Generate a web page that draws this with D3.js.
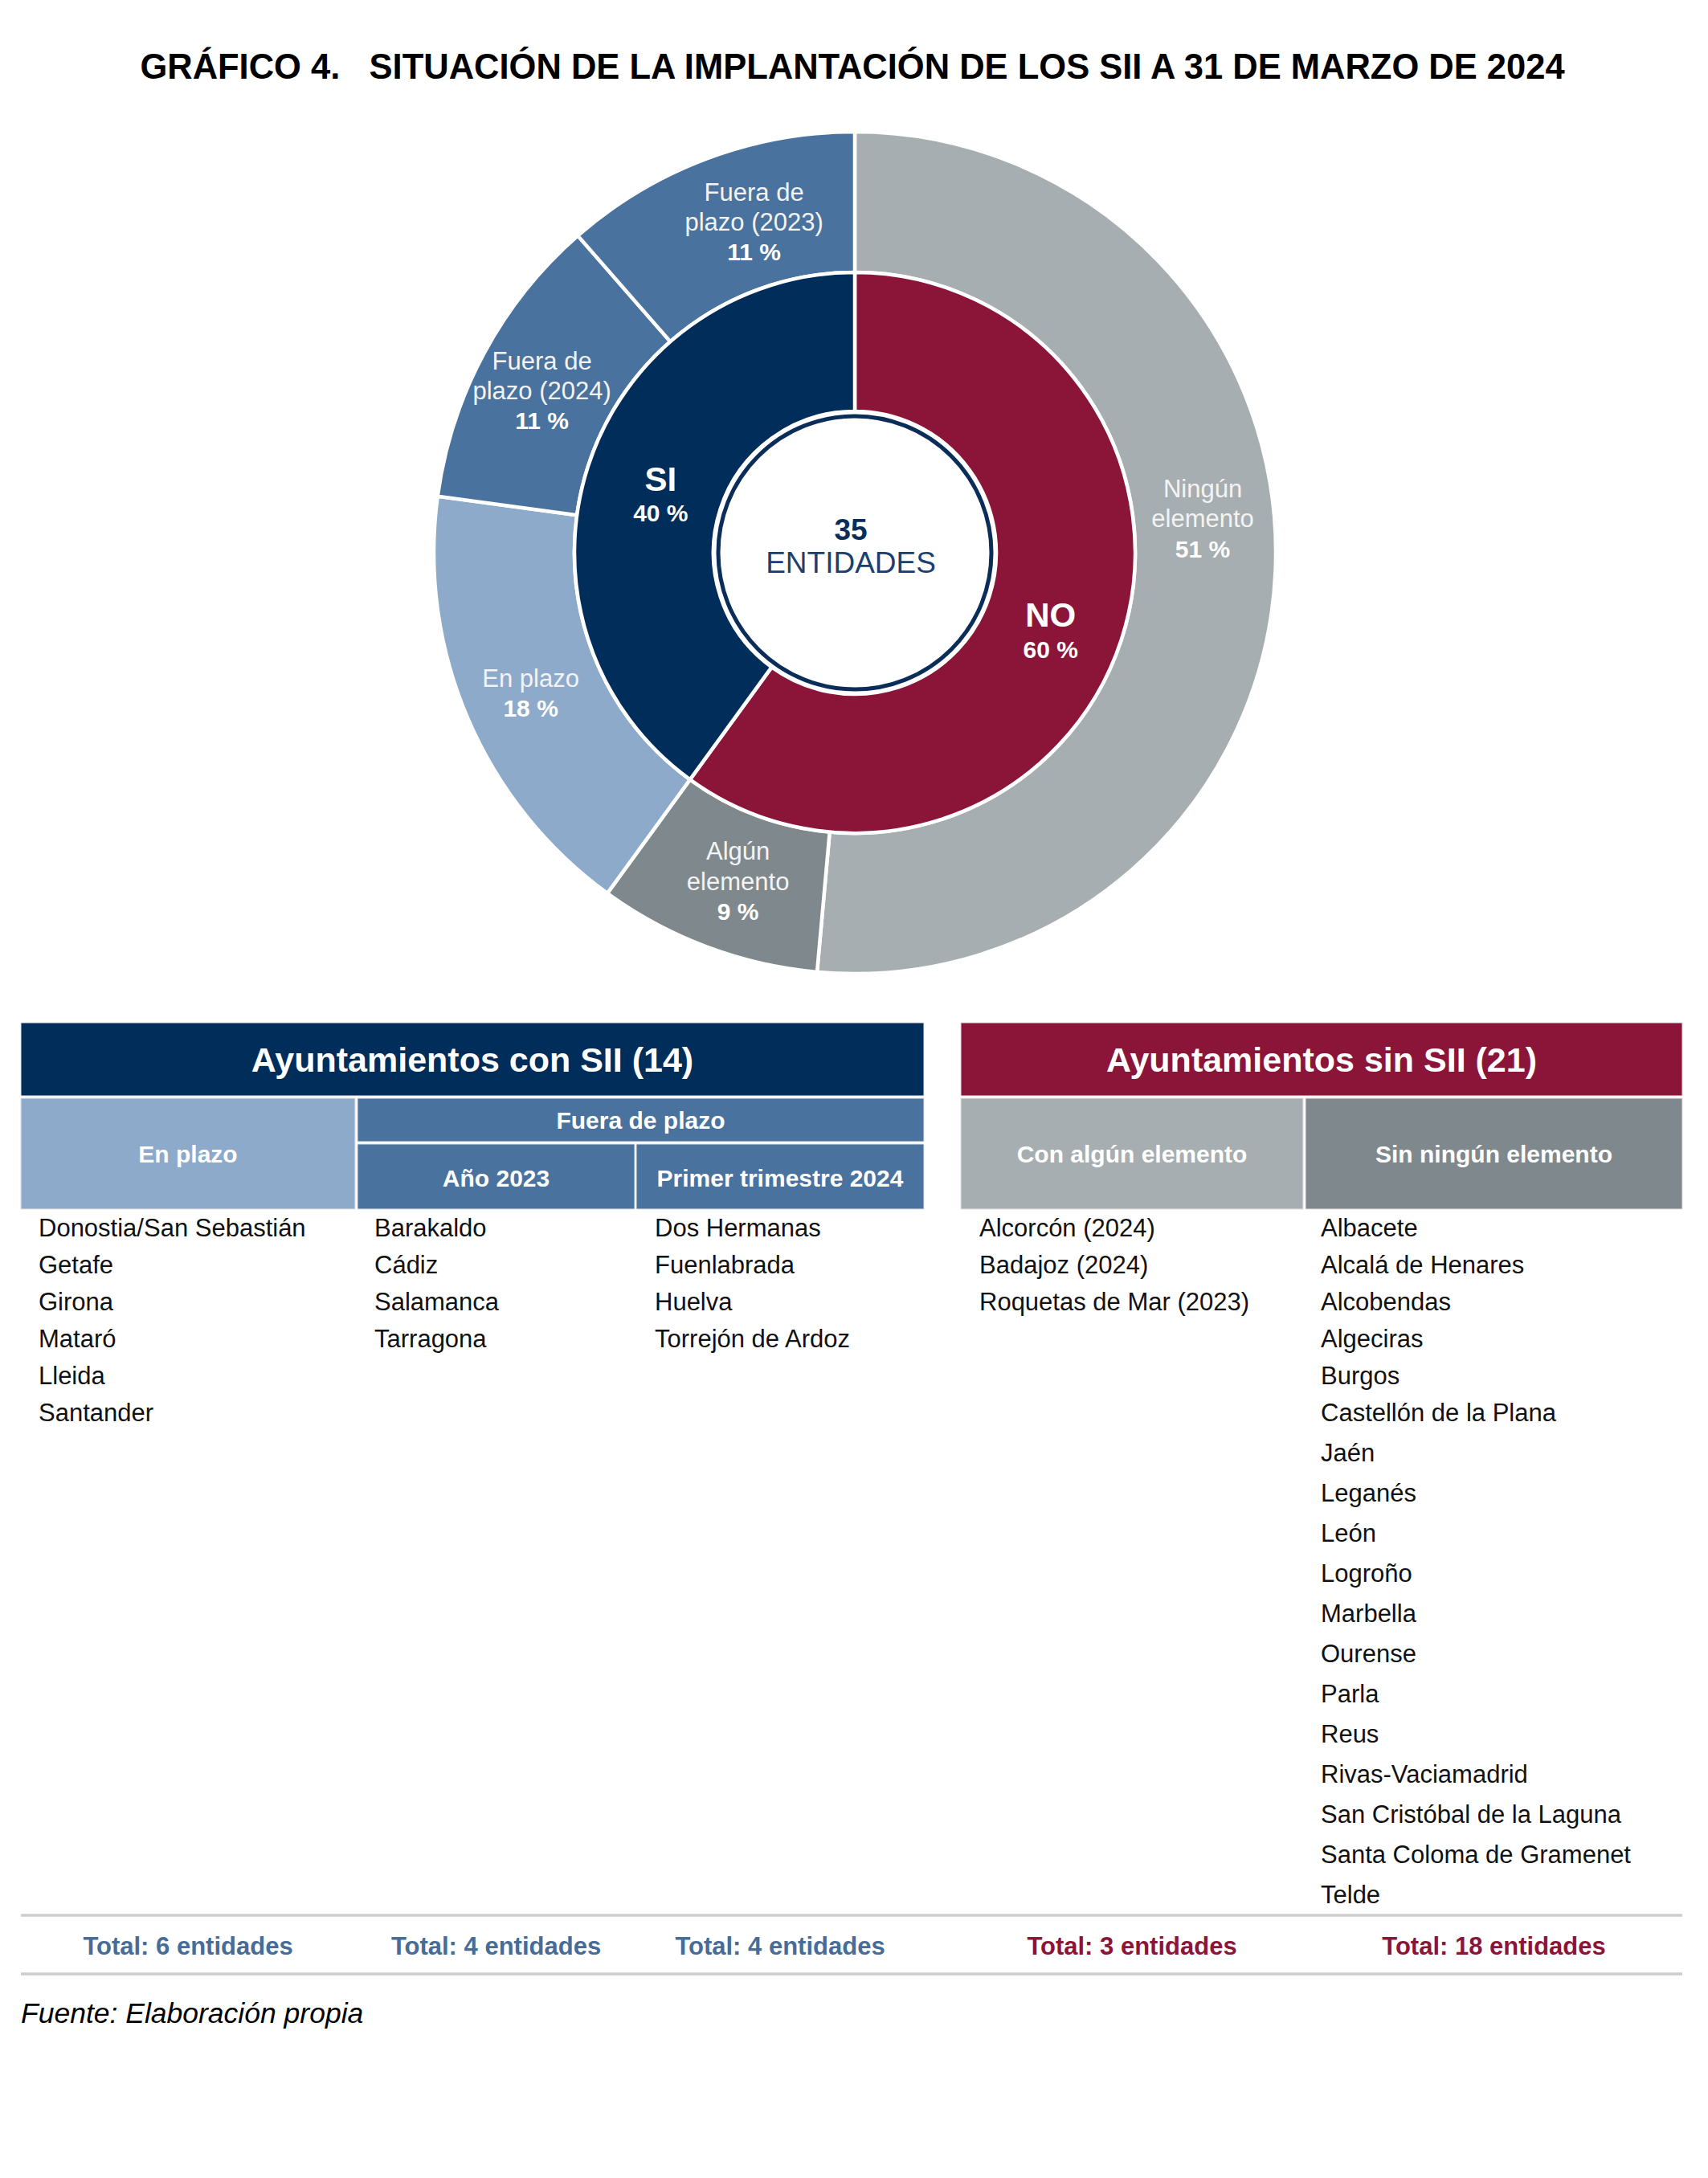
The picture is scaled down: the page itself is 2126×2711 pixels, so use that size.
<!DOCTYPE html>
<html>
<head>
<meta charset="utf-8">
<script src="https://cdn.jsdelivr.net/npm/d3@7"></script>
<style>
  html, body { margin: 0; padding: 0; background: #ffffff; }
  svg { display: block; }
  text { font-family: "Liberation Sans", Arial, Helvetica, sans-serif; }
</style>
</head>
<body>
<svg id="chart" width="2126" height="2711"></svg>
<script>
// ---------------- DATA ----------------
const titleText = "GRÁFICO 4.\u00A0\u00A0\u00A0SITUACIÓN DE LA IMPLANTACIÓN DE LOS SII A 31 DE MARZO DE 2024";
const totalEntities = 35;
const centerWord = "ENTIDADES";

const innerCategories = ["NO", "SI"];
const innerValues = [21, 14];
const innerPctLabels = ["60 %", "40 %"];

const outerCategories = ["Ningún elemento", "Algún elemento", "En plazo", "Fuera de plazo (2024)", "Fuera de plazo (2023)"];
const outerLabelLines = [["Ningún", "elemento"], ["Algún", "elemento"], ["En plazo"], ["Fuera de", "plazo (2024)"], ["Fuera de", "plazo (2023)"]];
const outerValues = [18, 3, 6, 4, 4];
const outerPctLabels = ["51 %", "9 %", "18 %", "11 %", "11 %"];

const tableConTitle = "Ayuntamientos con SII";
const tableSinTitle = "Ayuntamientos sin SII";
const colHeaders = ["En plazo", "Año 2023", "Primer trimestre 2024", "Con algún elemento", "Sin ningún elemento"];
const fueraHeader = "Fuera de plazo";

const enPlazoList = ["Donostia/San Sebastián", "Getafe", "Girona", "Mataró", "Lleida", "Santander"];
const fuera2023List = ["Barakaldo", "Cádiz", "Salamanca", "Tarragona"];
const fuera2024List = ["Dos Hermanas", "Fuenlabrada", "Huelva", "Torrejón de Ardoz"];
const conAlgunList = ["Alcorcón (2024)", "Badajoz (2024)", "Roquetas de Mar (2023)"];
const sinNingunList = ["Albacete", "Alcalá de Henares", "Alcobendas", "Algeciras", "Burgos", "Castellón de la Plana",
  "Jaén", "Leganés", "León", "Logroño", "Marbella", "Ourense", "Parla", "Reus", "Rivas-Vaciamadrid",
  "San Cristóbal de la Laguna", "Santa Coloma de Gramenet", "Telde"];

const sourceText = "Fuente: Elaboración propia";

// ---------------- STYLE ----------------
const C = {
  navy: "#002D5A",
  maroon: "#8B1538",
  fuera: "#4A729E",
  enplazo: "#8DAACA",
  ningun: "#A7AEB1",
  algun: "#7F898D",
  totalBlue: "#466C97",
  text: "#111111",
  rule: "#CDCDCD"
};
const innerColors = d3.scaleOrdinal().domain(innerCategories).range([C.maroon, C.navy]);
const outerColors = d3.scaleOrdinal().domain(outerCategories).range([C.ningun, C.algun, C.enplazo, C.fuera, C.fuera]);

const svg = d3.select("#chart");
svg.append("rect").attr("width", 2126).attr("height", 2711).attr("fill", "#fff");

// ---------------- TITLE ----------------
svg.append("text")
  .attr("x", 1061).attr("y", 98)
  .attr("text-anchor", "middle")
  .attr("font-size", 43.5).attr("font-weight", "bold").attr("fill", "#000")
  .text(titleText);

// ---------------- DONUT ----------------
const cx = 1064, cy = 688;
const g = svg.append("g").attr("transform", `translate(${cx},${cy})`);
const pie = d3.pie().sort(null).value(d => d.value).startAngle(0).endAngle(2 * Math.PI);

const outerData = pie(outerCategories.map((c, i) => ({ name: c, value: outerValues[i], lines: outerLabelLines[i], pct: outerPctLabels[i] })));
const innerData = pie(innerCategories.map((c, i) => ({ name: c, value: innerValues[i], pct: innerPctLabels[i] })));

const outerArc = d3.arc().innerRadius(349).outerRadius(524);
const innerArc = d3.arc().innerRadius(176).outerRadius(349);

g.selectAll("path.outer").data(outerData).join("path")
  .attr("class", "outer")
  .attr("d", outerArc)
  .attr("fill", d => outerColors(d.data.name))
  .attr("stroke", "#fff").attr("stroke-width", 4.5);

g.selectAll("path.inner").data(innerData).join("path")
  .attr("class", "inner")
  .attr("d", innerArc)
  .attr("fill", d => innerColors(d.data.name))
  .attr("stroke", "#fff").attr("stroke-width", 4.5);

// center circle
g.append("circle").attr("r", 170).attr("fill", "#fff").attr("stroke", "#0B2D5A").attr("stroke-width", 5);
g.append("text").attr("x", -5).attr("y", -29).attr("dy", "0.35em").attr("text-anchor", "middle")
  .attr("font-size", 37).attr("font-weight", "bold").attr("fill", "#0B2D5A").text(totalEntities);
g.append("text").attr("x", -5).attr("y", 12).attr("dy", "0.35em").attr("text-anchor", "middle")
  .attr("font-size", 37).attr("fill", "#1B3F6E").text(centerWord);

// label placement: arc centroids with small manual nudges
const labelOuterArc = d3.arc().innerRadius(351).outerRadius(522);
const labelInnerArc = d3.arc().innerRadius(178).outerRadius(347);
const outerNudge = { "Ningún elemento": [-3, -62], "Algún elemento": [8, 0], "En plazo": [-2, 3], "Fuera de plazo (2024)": [-5, 5], "Fuera de plazo (2023)": [28, -3] };
const innerNudge = { "NO": [-6, 17], "SI": [8, 10] };
const lineH = 37.5;

outerData.forEach(d => {
  const [x0, y0] = labelOuterArc.centroid(d);
  const nd = outerNudge[d.data.name] || [0, 0];
  const x = x0 + nd[0], y = y0 + nd[1];
  const lines = d.data.lines.concat([d.data.pct]);
  const n = lines.length;
  lines.forEach((t, i) => {
    const isPct = i === n - 1;
    g.append("text")
      .attr("x", x).attr("y", y + (i - (n - 1) / 2) * lineH)
      .attr("dy", "0.35em").attr("text-anchor", "middle")
      .attr("font-size", isPct ? 30 : 31)
      .attr("font-weight", isPct ? "bold" : "normal")
      .attr("fill", isPct ? "#ffffff" : "#F3F3F3")
      .text(t);
  });
});

innerData.forEach(d => {
  const [x0, y0] = labelInnerArc.centroid(d);
  const nd = innerNudge[d.data.name] || [0, 0];
  const x = x0 + nd[0], y = y0 + nd[1];
  g.append("text").attr("x", x).attr("y", y - 21).attr("dy", "0.35em").attr("text-anchor", "middle")
    .attr("font-size", 42).attr("font-weight", "bold").attr("fill", "#fff").text(d.data.name);
  g.append("text").attr("x", x).attr("y", y + 22).attr("dy", "0.35em").attr("text-anchor", "middle")
    .attr("font-size", 30).attr("font-weight", "bold").attr("fill", "#fff").text(d.data.pct);
});

// ---------------- TABLES ----------------
const T = svg.append("g");
const headTop = 1273, headBot = 1364, subTop = 1367, subMid1 = 1421, subMid2 = 1424, subBot = 1505;
const leftX0 = 26, leftX1 = 1150, rightX0 = 1196, rightX1 = 2094;
const col = [
  { x0: 26, x1: 442 },
  { x0: 445, x1: 790 },
  { x0: 792, x1: 1150 },
  { x0: 1196, x1: 1622 },
  { x0: 1625, x1: 2094 }
];

function cell(x0, y0, x1, y1, fill) {
  T.append("rect").attr("x", x0).attr("y", y0).attr("width", x1 - x0).attr("height", y1 - y0)
    .attr("fill", fill).attr("stroke", "#E4E4E4").attr("stroke-width", 1);
}
function ctext(x, y, t, size, fill, weight) {
  T.append("text").attr("x", x).attr("y", y).attr("dy", "0.35em").attr("text-anchor", "middle")
    .attr("font-size", size).attr("font-weight", weight || "bold").attr("fill", fill).text(t);
}

// main headers
cell(leftX0, headTop, leftX1, headBot, C.navy);
ctext((leftX0 + leftX1) / 2, (headTop + headBot) / 2, `${tableConTitle} (${enPlazoList.length + fuera2023List.length + fuera2024List.length})`, 43, "#fff");
cell(rightX0, headTop, rightX1, headBot, C.maroon);
ctext((rightX0 + rightX1) / 2, (headTop + headBot) / 2, `${tableSinTitle} (${conAlgunList.length + sinNingunList.length})`, 43, "#fff");

// sub headers
cell(col[0].x0, subTop, col[0].x1, subBot, C.enplazo);
ctext((col[0].x0 + col[0].x1) / 2, (subTop + subBot) / 2, colHeaders[0], 30, "#fff");
cell(col[1].x0, subTop, col[2].x1, subMid1, C.fuera);
ctext((col[1].x0 + col[2].x1) / 2, (subTop + subMid1) / 2, fueraHeader, 30, "#fff");
cell(col[1].x0, subMid2, col[1].x1, subBot, C.fuera);
ctext((col[1].x0 + col[1].x1) / 2, (subMid2 + subBot) / 2 + 2, colHeaders[1], 30, "#fff");
cell(col[2].x0, subMid2, col[2].x1, subBot, C.fuera);
ctext((col[2].x0 + col[2].x1) / 2, (subMid2 + subBot) / 2 + 2, colHeaders[2], 30, "#fff");
cell(col[3].x0, subTop, col[3].x1, subBot, C.ningun);
ctext((col[3].x0 + col[3].x1) / 2, (subTop + subBot) / 2, colHeaders[3], 30, "#fff");
cell(col[4].x0, subTop, col[4].x1, subBot, C.algun);
ctext((col[4].x0 + col[4].x1) / 2, (subTop + subBot) / 2, colHeaders[4], 30, "#fff");

// list rows
const rowY = i => i <= 5 ? 1528 + 46 * i : 1758 + 50 * (i - 5);
const lists = [enPlazoList, fuera2023List, fuera2024List, conAlgunList, sinNingunList];
const textX = [48, 466, 815, 1219, 1644];
lists.forEach((list, ci) => {
  T.selectAll(null).data(list).join("text")
    .attr("x", textX[ci]).attr("y", (d, i) => rowY(i)).attr("dy", "0.35em")
    .attr("font-size", 31).attr("fill", C.text).text(d => d);
});

// totals
T.append("line").attr("x1", 26).attr("x2", 2094).attr("y1", 2384).attr("y2", 2384).attr("stroke", C.rule).attr("stroke-width", 3.5);
T.append("line").attr("x1", 26).attr("x2", 2094).attr("y1", 2457).attr("y2", 2457).attr("stroke", C.rule).attr("stroke-width", 3.5);
const totalColors = [C.totalBlue, C.totalBlue, C.totalBlue, C.maroon, C.maroon];
lists.forEach((list, ci) => {
  ctext((col[ci].x0 + col[ci].x1) / 2, 2422, `Total: ${list.length} entidades`, 31, totalColors[ci]);
});

// source
svg.append("text").attr("x", 26).attr("y", 2506).attr("dy", "0.35em")
  .attr("font-size", 35.5).attr("font-style", "italic").attr("fill", "#000").text(sourceText);
</script>
</body>
</html>
